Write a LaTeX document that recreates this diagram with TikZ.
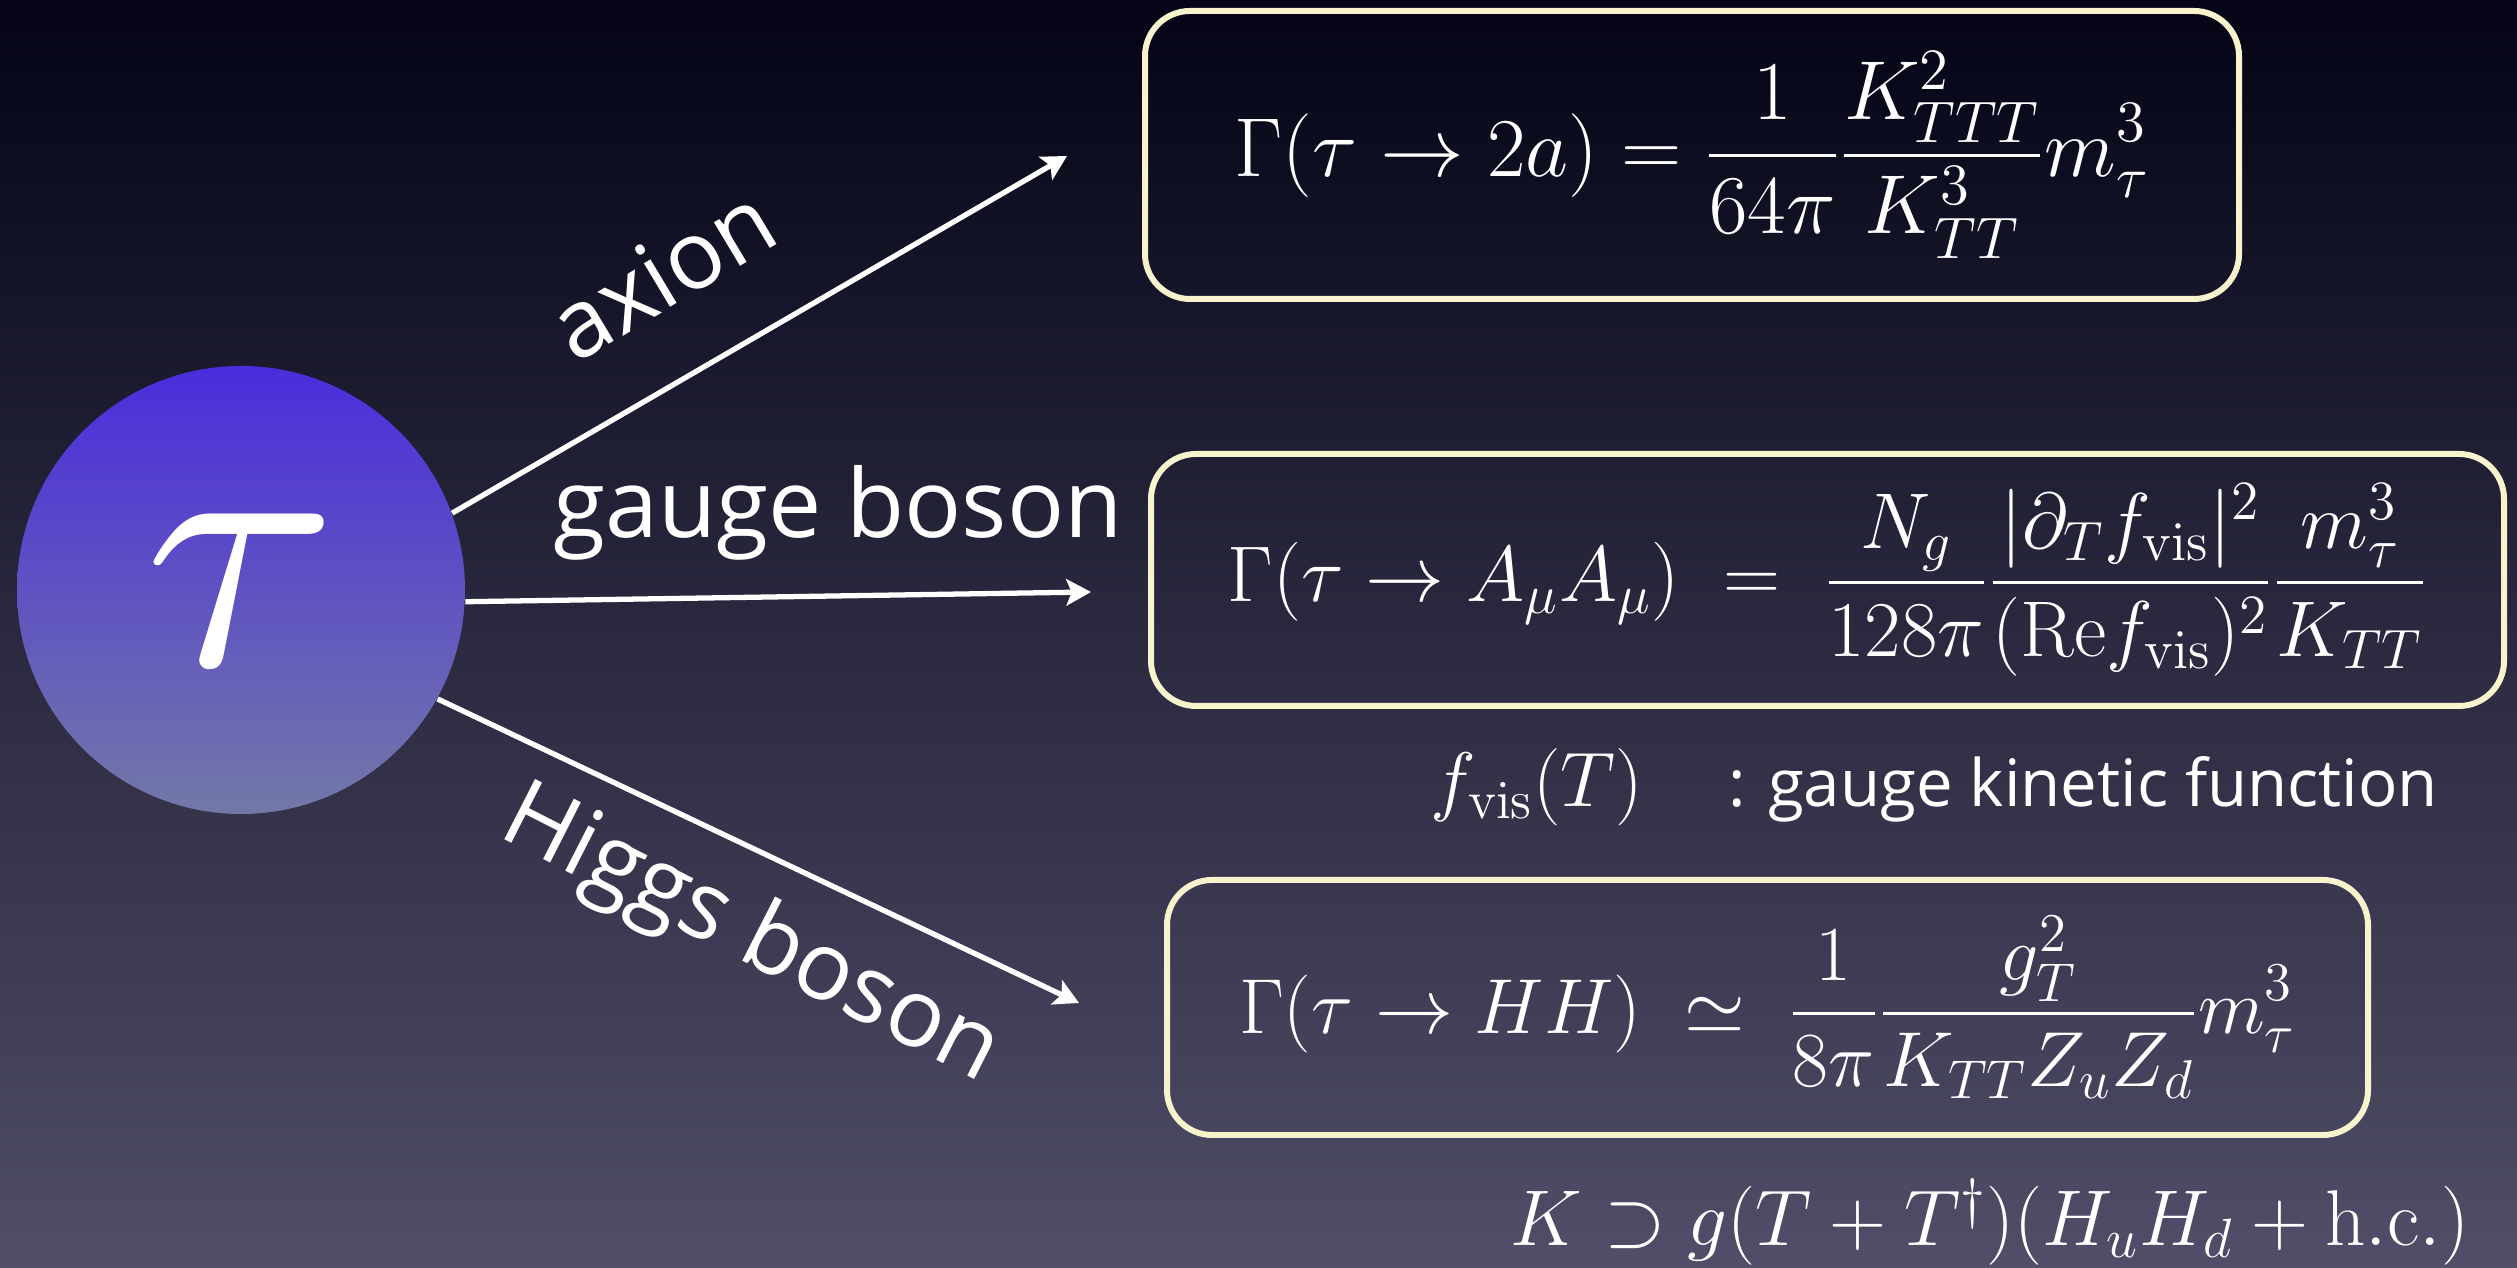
\RequirePackage{fix-cm}
\documentclass[tikz,border=0pt]{standalone}
\usepackage[no-math]{fontspec}
\newfontfamily\labelfont{Open Sans}
\usepackage{amsmath,amssymb}
\usetikzlibrary{arrows.meta,positioning,calc}
\definecolor{bgTop}{RGB}{4,4,22}
\definecolor{bgBottom}{RGB}{80,78,104}
\definecolor{tauTop}{RGB}{74,45,220}
\definecolor{tauBottom}{RGB}{115,120,168}
\definecolor{boxCream}{RGB}{248,243,205}

\begin{document}
\begin{tikzpicture}[
    decay/.style={-{Stealth[length=7pt,width=7.5pt,inset=1.5pt]}, line width=1.5pt, white},
    ratebox/.style={draw=boxCream, line width=1.7pt, rounded corners=0.45cm, inner sep=0pt, text=white, font=\fontsize{23.8}{28}\selectfont},
    channel/.style={text=white, font=\labelfont\fontsize{27}{32}\selectfont},
    note/.style={text=white, font=\fontsize{22}{27}\selectfont}]
  % Background
  \useasboundingbox (0,0) rectangle (25.17,12.68);
  \shade[top color=bgTop, bottom color=bgBottom] (0,0) rectangle (25.17,12.68);

  % Modulus
  \node[circle, minimum size=4.48cm, inner sep=0pt, top color=tauTop, bottom color=tauBottom,
    text=white] (tau) at (2.41,6.78) {\scalebox{10}{$\tau$}};

  % Decay channels
  \coordinate (axionEnd) at (10.67,11.12);
  \coordinate (gaugeEnd) at (10.91,6.76);
  \coordinate (higgsEnd) at (10.79,2.65);
  \draw[decay] (tau.20) -- (axionEnd);
  \draw[decay] (tau.-3) -- (gaugeEnd);
  \draw[decay] (tau.-29) -- (higgsEnd);
  \node[channel, rotate=31] (axion) at (6.62,9.95) {axion};
  \node[channel, anchor=base] (gauge) at (8.38,7.30) {gauge boson};
  \node[channel, rotate=-27] (higgs) at (7.50,3.31) {Higgs boson};

  % Decay rates
  \node[ratebox, minimum width=10.94cm, minimum height=2.88cm] (axionRate) at (16.92,11.13)
    {$\displaystyle \Gamma(\tau\to 2a)=\frac{1}{64\pi}\frac{K_{TTT}^2}{K_{TT}^3}m_\tau^3$};
  \node[ratebox, minimum width=13.53cm, minimum height=2.52cm, font=\fontsize{22.5}{27}\selectfont] (gaugeRate) at (18.275,6.88)
    {$\displaystyle \Gamma(\tau\to A_\mu A_\mu)\;=\;\frac{N_g}{128\pi}\frac{|\partial_T f_{\rm vis}|^2}{({\rm Re}f_{\rm vis})^2}\frac{m_\tau^3}{K_{TT}}$};
  \node[ratebox, minimum width=12.01cm, minimum height=2.55cm, font=\fontsize{22.2}{27}\selectfont] (higgsRate) at (17.675,2.605)
    {$\displaystyle \Gamma(\tau\to HH)\;\simeq\;\frac{1}{8\pi}\frac{g_T^2}{K_{TT}Z_uZ_d}m_\tau^3$};

  % Notes
  \node[note, anchor=base] (fvis) at (15.37,4.61) {$f_{\rm vis}(T)$};
  \node[note, base right=0.6cm of fvis, font=\labelfont\fontsize{18.6}{23}\selectfont] (kinetic) {: gauge kinetic function};
  \node[note, anchor=base, font=\fontsize{22.5}{27}\selectfont] (kahler) at (19.9,0.22) {$K\supset g(T+T^\dagger)(H_uH_d+{\rm h.c.})$};
\end{tikzpicture}
\end{document}
